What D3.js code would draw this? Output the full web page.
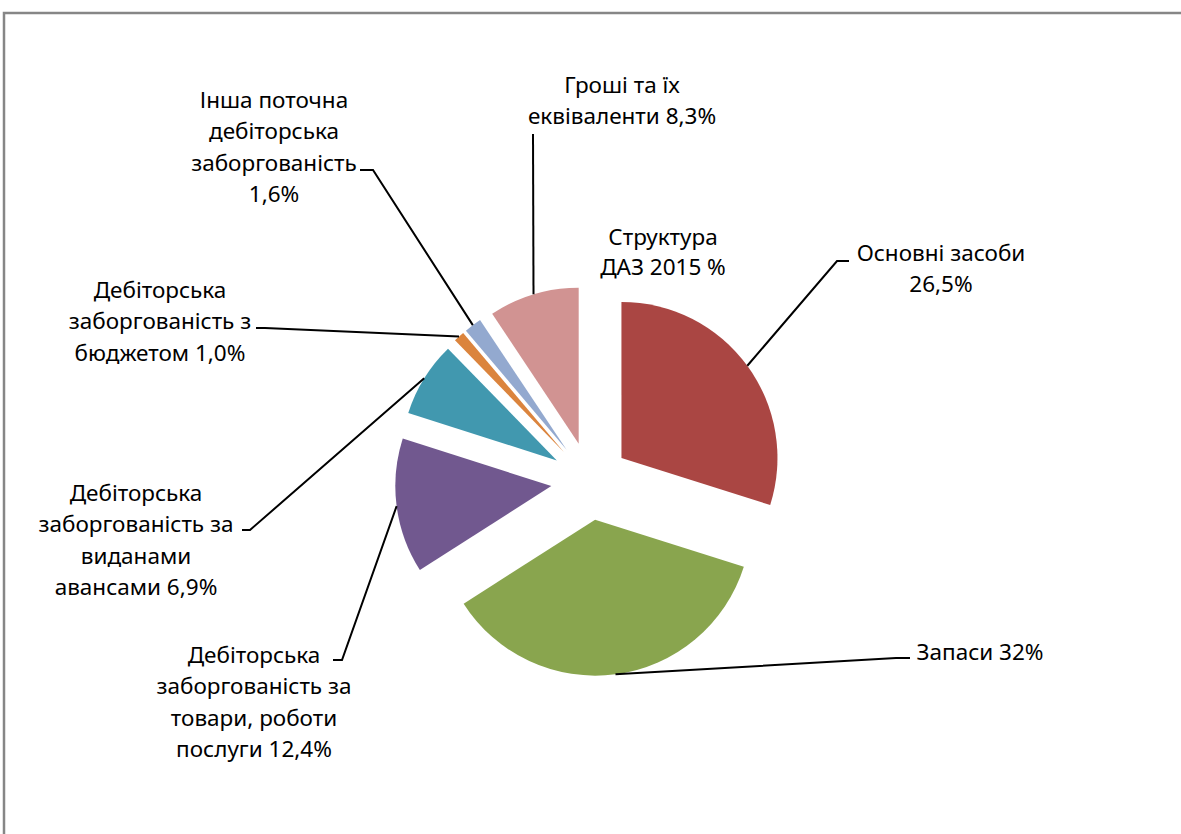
<!DOCTYPE html>
<html>
<head>
<meta charset="utf-8">
<script src="https://cdn.jsdelivr.net/npm/d3@7"></script>
<style>
  html, body { margin: 0; padding: 0; background: #fff; }
  svg { display: block; }
  text { font-family: "Noto Sans", "Open Sans", sans-serif; fill: #000; }
</style>
</head>
<body>
<svg id="chart" width="1181" height="834"></svg>
<script>
// ---- data ----
const categories = [
  "Основні засоби",
  "Запаси",
  "Дебіторська заборгованість за товари, роботи послуги",
  "Дебіторська заборгованість за виданами авансами",
  "Дебіторська заборгованість з бюджетом",
  "Інша поточна дебіторська заборгованість",
  "Гроші та їх еквіваленти"
];
const values = [26.5, 32, 12.4, 6.9, 1.0, 1.6, 8.3];
const valueLabels = ["26,5%", "32%", "12,4%", "6,9%", "1,0%", "1,6%", "8,3%"];
const labelLines = [
  ["Основні засоби", "26,5%"],
  ["Запаси 32%"],
  ["Дебіторська", "заборгованість за", "товари, роботи", "послуги 12,4%"],
  ["Дебіторська", "заборгованість за", "виданами", "авансами 6,9%"],
  ["Дебіторська", "заборгованість з", "бюджетом 1,0%"],
  ["Інша поточна", "дебіторська", "заборгованість", "1,6%"],
  ["Гроші та їх", "еквіваленти 8,3%"]
];
const colors = ["#AA4643", "#89A54E", "#71588F", "#4198AF", "#DB843D", "#93A9CF", "#D19392"];
const titleLines = ["Структура", "ДАЗ 2015 %"];

// ---- layout ----
const cx = 590, cy = 481, radius = 156, explode = 39;
const lineH = 31.5;
const fontSize = 22.5;
// label block: centre x, first line centre y; elbow point; stub end
const labelLayout = [
  {x: 941, y: 253, elbow: [837, 261], stub: [849, 261]},
  {x: 980, y: 652, elbow: [896, 658], stub: [910, 658]},
  {x: 254, y: 655, elbow: [342, 660], stub: [333, 660]},
  {x: 136, y: 493, elbow: [250, 530], stub: [242, 530]},
  {x: 160, y: 290, elbow: [265, 328], stub: [256, 328]},
  {x: 274, y: 100, elbow: [373, 170], stub: [360, 170]},
  {x: 622, y: 85,  elbow: [533, 134], stub: [533, 134]}
];

const svg = d3.select("#chart");

// frame
svg.append("path")
  .attr("d", "M4,834 V13 H1181")
  .attr("fill", "none")
  .attr("stroke", "#868686")
  .attr("stroke-width", 2.5);

const pie = d3.pie().sort(null).value(d => d).startAngle(0).endAngle(2 * Math.PI);
const arcs = pie(values);
const arc = d3.arc().innerRadius(0).outerRadius(radius);

const g = svg.append("g").attr("transform", `translate(${cx},${cy})`);

function dir(a) { return [Math.sin(a), -Math.cos(a)]; }

g.selectAll("path.slice")
  .data(arcs)
  .join("path")
  .attr("class", "slice")
  .attr("d", arc)
  .attr("fill", (d, i) => colors[i])
  .attr("transform", d => {
    const m = (d.startAngle + d.endAngle) / 2;
    const [dx, dy] = dir(m);
    return `translate(${dx * explode},${dy * explode})`;
  });

// leader lines
arcs.forEach((d, i) => {
  const m = (d.startAngle + d.endAngle) / 2;
  const [dx, dy] = dir(m);
  const ax = cx + dx * (explode + radius);
  const ay = cy + dy * (explode + radius);
  const L = labelLayout[i];
  svg.append("path")
    .attr("d", `M${ax},${ay} L${L.elbow[0]},${L.elbow[1]} L${L.stub[0]},${L.stub[1]}`)
    .attr("fill", "none")
    .attr("stroke", "#000")
    .attr("stroke-width", 2);
});

// labels
labelLines.forEach((lines, i) => {
  const L = labelLayout[i];
  const t = svg.append("text")
    .attr("text-anchor", "middle")
    .attr("font-size", fontSize);
  lines.forEach((s, j) => {
    t.append("tspan")
      .attr("x", L.x)
      .attr("y", L.y + j * lineH)
      .attr("dy", "0.35em")
      .text(s);
  });
});

// title
const tt = svg.append("text").attr("text-anchor", "middle").attr("font-size", fontSize);
titleLines.forEach((s, j) => {
  tt.append("tspan").attr("x", 663).attr("y", 237 + j * 30.5).attr("dy", "0.35em").text(s);
});
</script>
</body>
</html>
